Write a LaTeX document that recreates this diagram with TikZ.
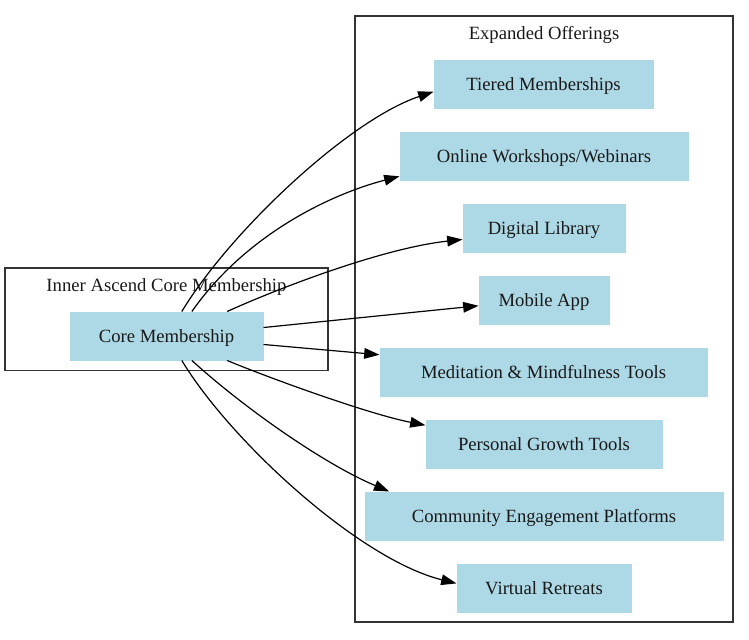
\documentclass[tikz,border=0pt]{standalone}
\usepackage{fontspec}
\setmainfont{Liberation Serif}
\usetikzlibrary{arrows.meta}
\definecolor{lightblue}{HTML}{ADD8E6}
\begin{document}
\begin{tikzpicture}[x=0.75pt,y=-0.75pt,
  box/.style={fill=lightblue,draw=lightblue,line width=0.75pt,minimum height=36pt,inner sep=0pt,text height=10pt,text depth=0.4pt,font=\fontsize{14pt}{16pt}\selectfont,text=black!90},
  cluster/.style={draw=black!80,line width=0.9pt},
  clabel/.style={font=\fontsize{14pt}{16pt}\selectfont,text=black!90,text height=10pt,text depth=0.4pt,inner sep=0pt},
  edge/.style={line width=0.9pt,-{Triangle[length=11.5pt,width=8pt]}}]
\useasboundingbox (0,0) rectangle (749,639);
% clusters
\draw[cluster] (5,268) rectangle (328,370.5);
\node[clabel] (lcl) at (166.5,285) {Inner Ascend Core Membership};
\draw[cluster] (355,16) rectangle (733,622);
\node[clabel] (rcl) at (544,33) {Expanded Offerings};
% nodes
\node[box,minimum width=144.75pt] (core) at (166.5,336) {Core Membership};
\node[box,minimum width=164.25pt] (tier) at (543.5,84) {Tiered Memberships};
\node[box,minimum width=216pt] (online) at (544,156) {Online Workshops/Webinars};
\node[box,minimum width=121.5pt] (digital) at (544,228) {Digital Library};
\node[box,minimum width=97.5pt] (mobile) at (544,300) {Mobile App};
\node[box,minimum width=245.25pt] (medit) at (543.5,372) {Meditation \& Mindfulness Tools};
\node[box,minimum width=177pt] (growth) at (544,444) {Personal Growth Tools};
\node[box,minimum width=268.5pt] (comm) at (544,516) {Community Engagement Platforms};
\node[box,minimum width=130.5pt] (retreat) at (544,588) {Virtual Retreats};
% edges
\draw[edge] (core.58.9) .. controls +(49,-81) and +(-84,28) .. (tier.184.2);
\draw[edge] (core.44.4) .. controls +(54,-77) and +(-69,18) .. (online.188.3);
\draw[edge] (core.22.7) .. controls +(46,-21) and +(-82,9) .. (digital.188.4);
\draw[edge] (core.5.9) -- (mobile.185.3);
\draw[edge] (core.-5.3) -- (medit.174.4);
\draw[edge] (core.-22.7) .. controls +(46,19) and +(-56,-11) .. (growth.171.3);
\draw[edge] (core.-44.4) .. controls +(54,49) and +(-64,-27) .. (comm.171.5);
\draw[edge] (core.-58.9) .. controls +(49,81) and +(-97,-24) .. (retreat.177.4);
\end{tikzpicture}
\end{document}
